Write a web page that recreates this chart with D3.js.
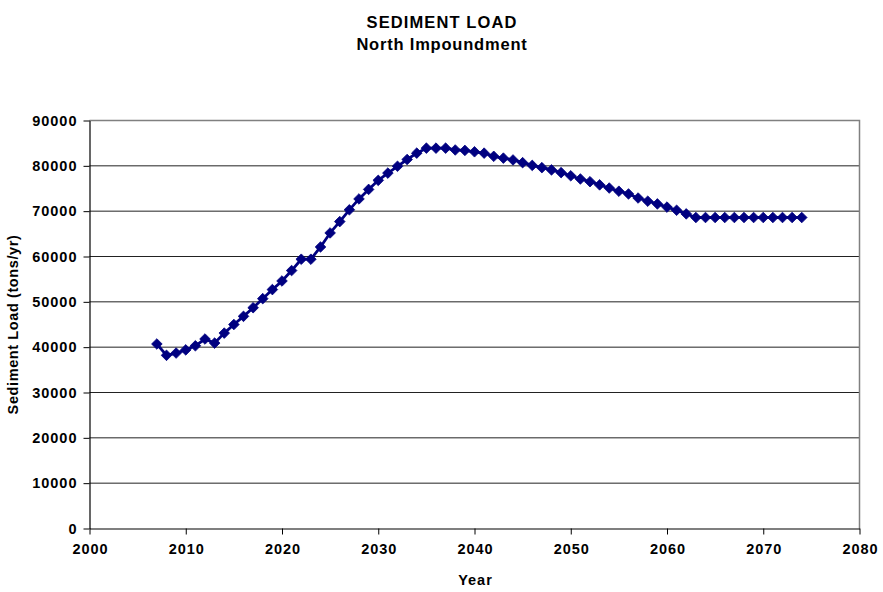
<!DOCTYPE html>
<html>
<head>
<meta charset="utf-8">
<script src="https://cdn.jsdelivr.net/npm/d3@7"></script>
<style>
  body { margin: 0; background: #fff; }
  svg text { font-family: Arial, "Liberation Sans", sans-serif; font-weight: bold; fill: #000; }
</style>
</head>
<body>
<svg width="883" height="592"></svg>
<script>
// sediment load, north impoundment

var years = d3.range(2007, 2075);

var load = [
  40700, 38200, 38700, 39400, 40300, 41800, 40900, 43100, 45000, 46800,
  48700, 50700, 52700, 54600, 56900, 59400, 59400, 62100, 65200, 67700,
  70300, 72700, 74800, 76800, 78400, 79900, 81400, 82800, 83900, 83900,
  83900, 83500, 83400, 83100, 82800, 82100, 81700, 81300, 80700, 80100,
  79600, 79100, 78500, 77800, 77100, 76500, 75800, 75100, 74400, 73800,
  72900, 72200, 71600, 70900, 70200, 69400, 68600, 68600, 68600, 68600,
  68600, 68600, 68600, 68600, 68600, 68600, 68600, 68600
];

var xTicks = [2000, 2010, 2020, 2030, 2040, 2050, 2060, 2070, 2080];
var yTicks = [0, 10000, 20000, 30000, 40000, 50000, 60000, 70000, 80000, 90000];

var data = years.map(function(d, i) { return {year: d, load: load[i]}; });

var svg = d3.select("svg");

var x = d3.scaleLinear()
    .domain([2000, 2080])
    .range([89.5, 859.5]);

var y = d3.scaleLinear()
    .domain([0, 90000])
    .range([528.5, 120.5]);

// gridlines
svg.append("g")
  .selectAll("line")
  .data(yTicks.slice(1))
  .enter().append("line")
    .attr("x1", x(2000))
    .attr("x2", x(2080))
    .attr("y1", function(d) { return y(d); })
    .attr("y2", function(d) { return y(d); })
    .attr("stroke", "#222")
    .attr("stroke-width", 1);

// plot box (top and right in gray)
svg.append("path")
    .attr("d", "M" + x(2000) + "," + y(90000) + "H" + x(2080) + "V" + y(0))
    .attr("fill", "none")
    .attr("stroke", "#808080")
    .attr("stroke-width", 1.5);

// axes
var xAxis = svg.append("g")
    .attr("transform", "translate(0," + y(0) + ")")
    .call(d3.axisBottom(x).tickValues(xTicks).tickFormat(d3.format("d")).tickSizeInner(6).tickSizeOuter(0).tickPadding(9));

var yAxis = svg.append("g")
    .attr("transform", "translate(" + x(2000) + ",0)")
    .call(d3.axisLeft(y).tickValues(yTicks).tickFormat(d3.format("d")).tickSizeInner(6).tickSizeOuter(0).tickPadding(6));

[xAxis, yAxis].forEach(function(a) {
  a.select(".domain").attr("stroke", "#000").attr("stroke-width", 1.2);
  a.selectAll(".tick line").attr("stroke", "#000");
  a.selectAll(".tick text")
    .style("font-size", "14.5px")
    .style("font-weight", "bold")
    .style("letter-spacing", "1px")
    .attr("fill", "#000");
});
xAxis.selectAll(".tick text").attr("dx", "0.5px");

// line
var line = d3.line()
    .x(function(d) { return x(d.year); })
    .y(function(d) { return y(d.load); });

svg.append("path")
    .datum(data)
    .attr("fill", "none")
    .attr("stroke", "#000080")
    .attr("stroke-width", 2.8)
    .attr("stroke-linejoin", "round")
    .attr("d", line);

// diamond markers
var r = 5.3;
svg.append("g")
  .selectAll("path")
  .data(data)
  .enter().append("path")
    .attr("transform", function(d) { return "translate(" + x(d.year) + "," + y(d.load) + ")"; })
    .attr("d", "M0," + (-r) + "L" + r + ",0L0," + r + "L" + (-r) + ",0Z")
    .attr("fill", "#000080")
    .attr("stroke", "#000080")
    .attr("stroke-width", 0.8);

// titles
svg.append("text")
    .attr("x", 442)
    .attr("y", 28)
    .attr("text-anchor", "middle")
    .style("font-size", "16.5px")
    .style("letter-spacing", "1.1px")
    .text("SEDIMENT LOAD");

svg.append("text")
    .attr("x", 442)
    .attr("y", 50)
    .attr("text-anchor", "middle")
    .style("font-size", "16.5px")
    .style("letter-spacing", "0.8px")
    .text("North Impoundment");

svg.append("text")
    .attr("x", x(2040) + 1)
    .attr("y", 585)
    .attr("text-anchor", "middle")
    .style("font-size", "14.5px")
    .style("letter-spacing", "1px")
    .text("Year");

svg.append("text")
    .attr("transform", "translate(18," + ((y(0) + y(90000)) / 2) + ") rotate(-90)")
    .attr("text-anchor", "middle")
    .style("font-size", "14.5px")
    .style("letter-spacing", "0.6px")
    .text("Sediment Load (tons/yr)");
</script>
</body>
</html>
